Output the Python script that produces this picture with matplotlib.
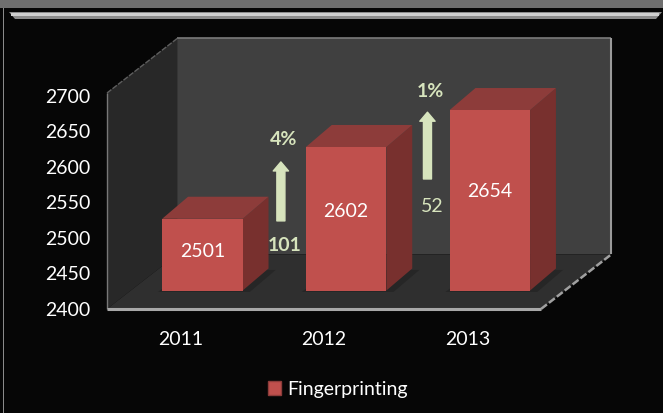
import matplotlib.pyplot as plt
from matplotlib.patches import Polygon, Rectangle
import numpy as np

years = ['2011', '2012', '2013']
counts = [2501, 2602, 2654]
changes = [101, 52]
growth = ['4%', '1%']
yticks = [2400, 2450, 2500, 2550, 2600, 2650, 2700]
series_name = 'Fingerprinting'

plt.rcParams['font.family'] = ['Lato', 'DejaVu Sans']

BG = '#060606'
RED = '#c0504d'
RED_TOP = '#8d3c3a'
RED_SIDE = '#78302e'
NOTE = '#d7e4bd'
FS = 14

fig = plt.figure(figsize=(6.63, 4.13), dpi=100, facecolor=BG)
ax = fig.add_axes([107 / 663, 104 / 413, 434 / 663, 216 / 413])
ax.set_facecolor('none')

x0, x1 = -0.51, 2.51
y0, y1 = 2400, 2704
ax.set_xlim(x0, x1)
ax.set_ylim(y0, y1)

# depth of the box, in data units
DX, DY = 0.49, 77

def poly(pts, color, z):
    ax.add_patch(Polygon(pts, closed=True, facecolor=color, edgecolor='none',
                         zorder=z, clip_on=False))

# walls and floor
poly([(x0 + DX, y0 + DY), (x1 + DX, y0 + DY), (x1 + DX, y1 + DY), (x0 + DX, y1 + DY)], '#404040', 1)
poly([(x0, y0), (x0 + DX, y0 + DY), (x0 + DX, y1 + DY), (x0, y1)], '#282828', 1)
poly([(x0, y0), (x1, y0), (x1 + DX, y0 + DY), (x0 + DX, y0 + DY)], '#2f2f2f', 2)

kw = dict(clip_on=False, zorder=3, solid_capstyle='butt')
ax.plot([x0 + DX, x1 + DX], [y1 + DY, y1 + DY], color='#7a7a7a', lw=1.2, **kw)
ax.plot([x1 + DX, x1 + DX], [y0 + DY, y1 + DY], color='#9a9a9a', lw=1.5, **kw)
ax.plot([x0, x0 + DX], [y1, y1 + DY], color='#5e5e5e', lw=1.0, ls=(0, (4, 1)), **kw)
ax.plot([x0, x0], [y0, y1], color='#777777', lw=1.0, **kw)
ax.plot([x0, x1], [y0, y0], color='#a8a8a8', lw=2.2, **kw)
ax.plot([x1, x1 + DX], [y0, y0 + DY], color='#a0a0a0', lw=1.8, ls=(0, (3, 1)), **kw)

# bars
w = 0.56
bx, by = 0.154, 26
bdx, bdy = 0.18, 31
for i, v in enumerate(counts):
    fx0 = i + bx - w / 2
    fx1 = fx0 + w
    base = y0 + by
    top = v + by
    # soft shadow on floor
    poly([(fx0 - 0.03, base - 2), (fx1 + 0.05, base - 2), (fx1 + bdx + 0.05, base + bdy - 2),
          (fx0 + bdx, base + bdy - 2)], '#262626', 3)
    poly([(fx1, base), (fx1 + bdx, base + bdy), (fx1 + bdx, top + bdy), (fx1, top)], RED_SIDE, 4)
    poly([(fx0, top), (fx1, top), (fx1 + bdx, top + bdy), (fx0 + bdx, top + bdy)], RED_TOP, 4)
    ax.add_patch(Rectangle((fx0, base), w, top - base, facecolor=RED, edgecolor='none',
                           zorder=5, clip_on=False))
    ax.text(i + bx, top - 0.45 * (top - base), str(v), color='white', fontsize=FS,
            ha='center', va='center', zorder=6)

# growth arrows and notes
arrow_x = [0.70, 1.72]
arrow_tail = [2524, 2583]
arrow_head = [2607, 2677]
pct_y = [2638, 2706]
diff_y = [2490, 2544]
for k in range(len(changes)):
    ax.annotate('', xy=(arrow_x[k], arrow_head[k]), xytext=(arrow_x[k], arrow_tail[k]),
                arrowprops=dict(arrowstyle='simple,head_width=1.1,head_length=0.65,tail_width=0.58',
                                mutation_scale=10, color=NOTE, shrinkA=0, shrinkB=0),
                zorder=6, annotation_clip=False)
    ax.text(arrow_x[k] + 0.02, pct_y[k], growth[k], color=NOTE, fontsize=FS,
            fontweight='bold', ha='center', va='center', zorder=6)
    ax.text(arrow_x[k] + 0.03, diff_y[k], str(changes[k]), color=NOTE, fontsize=FS,
            fontweight='bold' if k == 0 else 'normal', ha='center', va='center', zorder=6)

ax.set_xticks(range(len(years)))
ax.set_xticklabels(years)
ax.set_yticks(yticks)
ax.tick_params(axis='both', length=0, colors='white', labelsize=FS)
ax.tick_params(axis='x', pad=16)
ax.tick_params(axis='y', pad=12)
for s in ax.spines.values():
    s.set_visible(False)

handle = Rectangle((0, 0), 1, 1, facecolor=RED, edgecolor='#8d3c3a')
leg = fig.legend([handle], [series_name], loc='center', bbox_to_anchor=(338 / 663, 1 - 389 / 413),
                 frameon=False, fontsize=FS, handlelength=0.68, handleheight=0.72,
                 handletextpad=0.3)
for t in leg.get_texts():
    t.set_color('white')

# frame decorations at the top and left edge
fig.patches.append(Rectangle((0, 1 - 8 / 413), 1, 8 / 413, transform=fig.transFigure,
                             facecolor='#6f6f6f', edgecolor='none'))
fig.patches.append(Polygon([(9 / 663, 1 - 12 / 413), (662 / 663, 1 - 12 / 413),
                            (656 / 663, 1 - 19 / 413), (15 / 663, 1 - 19 / 413)],
                           transform=fig.transFigure, facecolor='#8c8c8c', edgecolor='none'))
fig.patches.append(Rectangle((11 / 663, 1 - 15.5 / 413), 648 / 663, 2.5 / 413,
                             transform=fig.transFigure, facecolor='#cfcfcf', edgecolor='none'))
fig.patches.append(Rectangle((2.5 / 663, 0), 1.5 / 663, 1 - 8 / 413, transform=fig.transFigure,
                             facecolor='#8a8a8a', edgecolor='none'))

fig.savefig('out.png', dpi=100, facecolor=BG)
